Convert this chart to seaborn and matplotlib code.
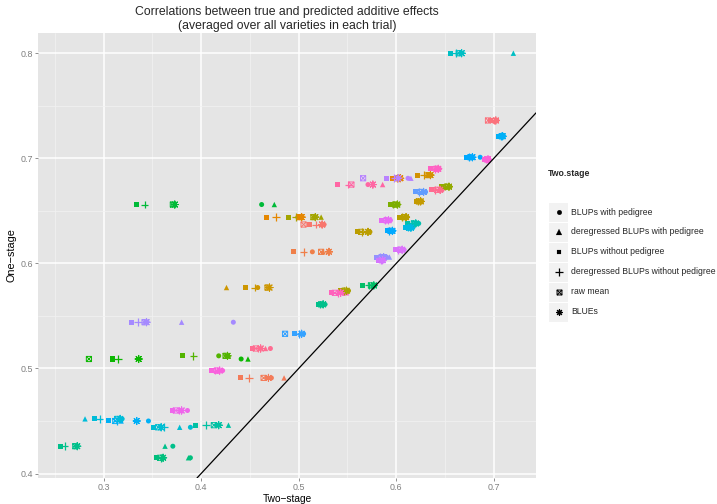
import numpy as np
import pandas as pd
import matplotlib
matplotlib.use("Agg")
import matplotlib.pyplot as plt
import seaborn as sns
from matplotlib.path import Path
from matplotlib.markers import MarkerStyle
from matplotlib.lines import Line2D
from matplotlib.patches import Rectangle
from matplotlib.ticker import MultipleLocator

# ============================================
# DATA (one row per trial)
# ============================================

one_stage = [0.800, 0.736, 0.721, 0.701, 0.699, 0.690, 0.684, 0.681, 0.681, 0.675,
             0.673, 0.670, 0.668, 0.659, 0.656, 0.656, 0.644, 0.644, 0.644, 0.641,
             0.638, 0.637, 0.634, 0.631, 0.630, 0.611, 0.613, 0.606, 0.603, 0.579,
             0.577, 0.574, 0.572, 0.561, 0.544, 0.533, 0.519, 0.512, 0.509, 0.498,
             0.491, 0.460, 0.452, 0.450, 0.444, 0.446, 0.426, 0.415]

blups_ped = [0.666, 0.703, 0.710, 0.686, 0.695, 0.644, 0.634, 0.603, 0.612, 0.571,
             0.655, 0.647, 0.630, 0.626, 0.602, 0.462, 0.499, 0.516, 0.611, 0.594,
             0.623, 0.526, 0.617, 0.597, 0.573, 0.514, 0.608, 0.590, 0.587, 0.578,
             0.458, 0.551, 0.547, 0.527, 0.433, 0.505, 0.471, 0.418, 0.441, 0.422,
             0.472, 0.386, 0.319, 0.346, 0.389, 0.416, 0.371, 0.389]

dereg_ped = [0.720, 0.701, 0.707, 0.679, 0.694, 0.642, 0.632, 0.605, 0.615, 0.586,
             0.653, 0.644, 0.626, 0.624, 0.600, 0.475, 0.502, 0.523, 0.609, 0.591,
             0.619, 0.525, 0.614, 0.595, 0.572, 0.525, 0.605, 0.593, 0.586, 0.576,
             0.426, 0.550, 0.549, 0.524, 0.380, 0.502, 0.466, 0.428, 0.448, 0.417,
             0.485, 0.379, 0.281, 0.318, 0.378, 0.428, 0.363, 0.387]

blups_noped = [0.656, 0.697, 0.705, 0.672, 0.690, 0.635, 0.622, 0.596, 0.590, 0.540,
               0.646, 0.636, 0.620, 0.621, 0.594, 0.334, 0.467, 0.490, 0.603, 0.585,
               0.612, 0.511, 0.609, 0.591, 0.560, 0.495, 0.599, 0.580, 0.582, 0.565,
               0.445, 0.543, 0.534, 0.520, 0.329, 0.496, 0.453, 0.381, 0.309, 0.411,
               0.440, 0.371, 0.291, 0.305, 0.351, 0.394, 0.256, 0.354]

dereg_noped = [0.661, 0.700, 0.707, 0.675, 0.692, 0.640, 0.628, 0.601, 0.598, 0.551,
               0.650, 0.640, 0.623, 0.622, 0.597, 0.342, 0.477, 0.497, 0.606, 0.588,
               0.616, 0.518, 0.612, 0.593, 0.565, 0.505, 0.602, 0.583, 0.584, 0.572,
               0.455, 0.546, 0.540, 0.522, 0.335, 0.500, 0.458, 0.392, 0.315, 0.414,
               0.449, 0.377, 0.296, 0.314, 0.362, 0.405, 0.260, 0.359]

raw_mean = [0.664, 0.694, 0.708, 0.676, 0.693, 0.641, 0.633, 0.602, 0.566, 0.554,
            0.652, 0.642, 0.625, 0.623, 0.599, 0.371, 0.501, 0.515, 0.608, 0.590,
            0.618, 0.505, 0.613, 0.594, 0.564, 0.523, 0.604, 0.585, 0.585, 0.574,
            0.468, 0.547, 0.537, 0.523, 0.342, 0.486, 0.456, 0.425, 0.285, 0.416,
            0.464, 0.374, 0.314, 0.312, 0.356, 0.413, 0.271, 0.358]

blues = [0.667, 0.702, 0.709, 0.678, 0.694, 0.643, 0.635, 0.604, 0.602, 0.576,
         0.654, 0.645, 0.628, 0.625, 0.601, 0.373, 0.503, 0.517, 0.610, 0.592,
         0.620, 0.524, 0.615, 0.596, 0.571, 0.531, 0.606, 0.587, 0.586, 0.577,
         0.470, 0.549, 0.543, 0.525, 0.344, 0.503, 0.461, 0.427, 0.336, 0.419,
         0.469, 0.380, 0.317, 0.334, 0.359, 0.418, 0.273, 0.361]

methods = ["BLUPs with pedigree", "deregressed BLUPs with pedigree",
           "BLUPs without pedigree", "deregressed BLUPs without pedigree",
           "raw mean", "BLUEs"]

# trial colours (ggplot hue palette look)
trial_colors = ["#00BFC4", "#FB727C", "#00B0F6", "#00A9FF", "#FB61D7", "#FF61C3",
                "#D39200", "#E58700", "#B983FF", "#FF67A4", "#93AA00", "#FF6C91",
                "#619CFF", "#C49A00", "#7CAE00", "#00BA38", "#E58700", "#A3A500",
                "#B79F00", "#E76BF3", "#00C0AF", "#F8766D", "#00B9E3", "#00A9FF",
                "#BB9D00", "#EF7F49", "#DB72FB", "#9590FF", "#D575FE", "#00BE67",
                "#CD9600", "#ABA300", "#FF62BC", "#00C08B", "#A58AFF", "#35A2FF",
                "#FF6C91", "#53B400", "#0CB702", "#F962DD", "#F37B59", "#EF67EB",
                "#00BCD8", "#00B0F6", "#00BDD2", "#00C1A3", "#00C08B", "#00BF7D"]

# ============================================
# BUILD LONG TABLE
# ============================================

trials = ["T%02d" % (i + 1) for i in range(len(one_stage))]
series = [blups_ped, dereg_ped, blups_noped, dereg_noped, raw_mean, blues]

rows = []
for m, vals in zip(methods, series):
    for t, y, x in zip(trials, one_stage, vals):
        rows.append({"trial": t, "Two.stage": m, "two": x, "one": y})
df = pd.DataFrame(rows)

palette = dict(zip(trials, trial_colors))

# ============================================
# MARKERS
# ============================================

box_x = Path([(-1, -1), (1, -1), (1, 1), (-1, 1), (-1, -1),
              (1, 1), (-1, 1), (1, -1)],
             [Path.MOVETO, Path.LINETO, Path.LINETO, Path.LINETO, Path.LINETO,
              Path.LINETO, Path.MOVETO, Path.LINETO])

marker_map = {
    "BLUPs with pedigree": ("o", 13, 0),
    "deregressed BLUPs with pedigree": ("^", 15, 0),
    "BLUPs without pedigree": ("s", 13, 0),
    "deregressed BLUPs without pedigree": ("+", 30, 0.9),
    "raw mean": (MarkerStyle(box_x), 14, 0.7),
    "BLUEs": ((8, 2, 0), 26, 0.8),
}

# ============================================
# PLOT
# ============================================

sns.set_theme(style="darkgrid")
plt.rcParams['font.family'] = ['Liberation Sans', 'DejaVu Sans']

fig = plt.figure(figsize=(7.17, 5.04), dpi=100)
ax = fig.add_axes([38 / 717, 26 / 504, 498 / 717, 445 / 504])
ax.set_facecolor("#E5E5E5")

for m in methods:
    mk, size, lw = marker_map[m]
    sub = df[df["Two.stage"] == m]
    sns.scatterplot(data=sub, x="two", y="one", hue="trial", hue_order=trials,
                    palette=palette, marker=mk, s=size, linewidth=lw,
                    legend=False, ax=ax, zorder=3)
    if m == "raw mean":
        coll = ax.collections[-1]
        cols = coll.get_facecolors()
        coll.set_facecolors("none")
        coll.set_edgecolors(cols)
        coll.set_linewidths(0.7)

# y = x reference line
ax.axline((0.5, 0.5), slope=1, color="black", lw=0.9, zorder=4)

# limits with ggplot style 5% expansion
xs = df["two"]
ys = df["one"]
xr = xs.max() - xs.min()
yr = ys.max() - ys.min()
ax.set_xlim(xs.min() - 0.05 * xr, xs.max() + 0.05 * xr)
ax.set_ylim(ys.min() - 0.05 * yr, ys.max() + 0.05 * yr)

ax.xaxis.set_major_locator(MultipleLocator(0.1))
ax.yaxis.set_major_locator(MultipleLocator(0.1))
ax.xaxis.set_minor_locator(MultipleLocator(0.05))
ax.yaxis.set_minor_locator(MultipleLocator(0.05))
ax.grid(which="major", color="white", lw=1.1)
ax.grid(which="minor", color="#F2F2F2", lw=0.5)
ax.tick_params(which="major", length=2.5, width=0.6, color="#7F7F7F",
               labelcolor="#7F7F7F", labelsize=6.4, pad=1,
               bottom=True, left=True)
ax.tick_params(which="minor", length=0)
ax.xaxis.set_major_formatter(matplotlib.ticker.FormatStrFormatter("%.1f"))
ax.yaxis.set_major_formatter(matplotlib.ticker.FormatStrFormatter("%.1f"))
for s in ax.spines.values():
    s.set_visible(False)

ax.set_xlabel("Two\u2212stage", fontsize=7.3, color="black")
ax.set_ylabel("One\u2212stage", fontsize=7.8, color="black")
ax.xaxis.set_label_coords(0.5, -25.5 / 445)
ax.xaxis.label.set_va("bottom")
ax.yaxis.set_label_coords(-0.053, 0.5)
ax.yaxis.label.set_va("center")

fig.text(287 / 717, 1 - 12 / 504,
         "Correlations between true and predicted additive effects",
         ha="center", va="center", fontsize=8.8)
fig.text(287 / 717, 1 - 26 / 504,
         "(averaged over all varieties in each trial)",
         ha="center", va="center", fontsize=8.8)

# ============================================
# LEGEND (shape only, drawn by hand)
# ============================================

fig.text(548 / 717, 1 - 173 / 504, "Two.stage", fontsize=6.3,
         fontweight="bold", ha="left", va="center")
row_y = [212, 232, 252, 272, 292, 312]
for m, yp in zip(methods, row_y):
    fig.patches.append(Rectangle((549 / 717, 1 - (yp + 9.5) / 504),
                                 19 / 717, 19 / 504,
                                 transform=fig.transFigure,
                                 facecolor="#F2F2F2", edgecolor="none"))
    mk, size, lw = marker_map[m]
    fig.add_artist(Line2D([558.5 / 717], [1 - yp / 504], marker=mk,
                          markersize=np.sqrt(size) * 0.95,
                          color="black", markeredgewidth=max(lw, 0.1),
                          markerfacecolor="none" if m == "raw mean" else "black",
                          linestyle="none", transform=fig.transFigure))
    fig.text(571 / 717, 1 - yp / 504, m, fontsize=6.2, ha="left", va="center")

plt.savefig("out.png", dpi=100)
